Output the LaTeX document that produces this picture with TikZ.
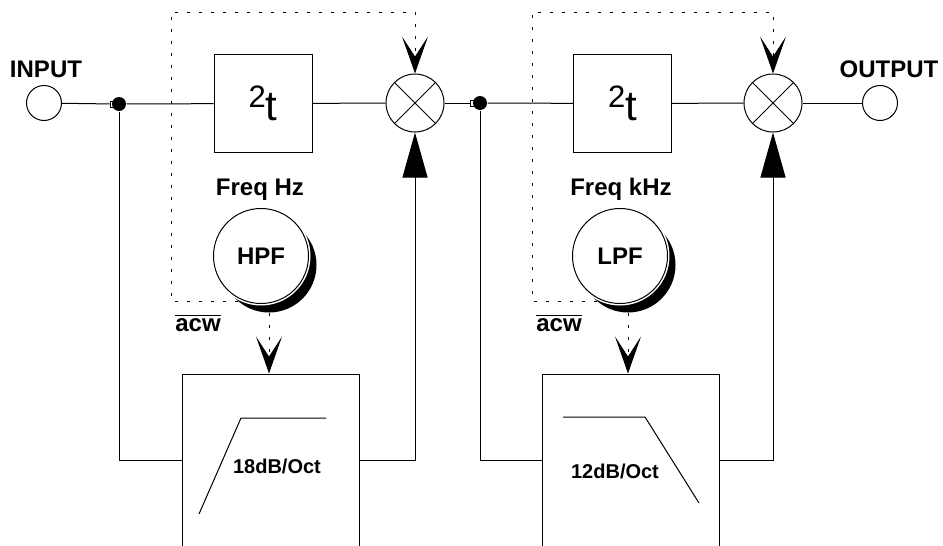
\documentclass[tikz,border=0pt]{standalone}
\usepackage{fontspec}
\setmainfont{Liberation Sans}
\usetikzlibrary{arrows.meta}

\tikzset{
  blk/.style={draw, minimum size=49pt, inner sep=0pt},
  filt/.style={draw, minimum width=88.5pt, minimum height=100pt, inner sep=0pt},
  mixer/.style={draw, circle, minimum size=29pt, inner sep=0pt},
  port/.style={draw, circle, minimum size=17.5pt, inner sep=0pt},
  knob/.style={draw, circle, fill=white, preaction={draw=white, line width=2pt},
    minimum size=47.5pt, inner sep=0pt, font=\fontsize{12}{14}\selectfont\bfseries},
  knobshade/.style={circle, fill=black, minimum size=47.5pt, inner sep=0pt},
  jdot/.style={circle, fill=black, minimum size=7pt, inner sep=0pt},
  tap/.style={draw, fill=white, minimum size=3pt, inner sep=0pt, line width=0.3pt},
  ctrl/.style={dash pattern=on 1.5pt off 4.5pt},
  lbl/.style={font=\fontsize{12}{14}\selectfont\bfseries},
  slope/.style={font=\fontsize{10}{12}\selectfont\bfseries},
  cv/.style={-{Stealth[length=18.5pt, width=13pt, inset=10pt]}},
  sig/.style={-{Triangle[length=22.5pt, width=12.5pt]}},
}

\begin{document}
\begin{tikzpicture}[x=0.5pt, y=-0.5pt, line width=0.5pt]
  \useasboundingbox (0,0) rectangle (943,546);
  \clip (0,0) rectangle (943,546);

  % in and out
  \node[port] (in) at (44,103) {};
  \node[lbl, anchor=base] (inlbl) at (46,77) {INPUT};
  \node[port] (out) at (880,103) {};
  \node[lbl, anchor=base] (outlbl) at (889,77) {OUTPUT};

  % first stage
  \node[tap] (sq1) at (113,104) {};
  \node[jdot] (jn1) at (119,104) {};
  \node[blk] (dly1) at (263,103.5) {{\fontsize{15.5}{16}\selectfont\raisebox{6.5pt}{2}}{\fontsize{21}{21}\selectfont t}};
  \node[mixer] (mix1) at (415,103) {};
  \node[filt] (flt1) at (270.5,474) {};

  % second stage
  \node[tap] (sq2) at (473,103) {};
  \node[jdot] (jn2) at (480,103) {};
  \node[blk] (dly2) at (622.5,103.5) {{\fontsize{15.5}{16}\selectfont\raisebox{6.5pt}{2}}{\fontsize{21}{21}\selectfont t}};
  \node[mixer] (mix2) at (773,103) {};
  \node[filt] (flt2) at (631,474) {};

  % signal path
  \draw (in) -- (sq1);
  \draw (jn1) -- (dly1);
  \draw (dly1) -- (mix1);
  \draw (mix1) -- (sq2);
  \draw (jn2) -- (dly2);
  \draw (dly2) -- (mix2);
  \draw (mix2) -- (out);
  \foreach \m in {mix1,mix2}
    \draw (\m.45) -- (\m.225) (\m.135) -- (\m.315);

  % filtered side paths
  \draw (jn1) |- ([yshift=7pt]flt1.west);
  \draw[sig] ([yshift=7pt]flt1.east) -| (mix1);
  \draw (jn2) |- ([yshift=7pt]flt2.west);
  \draw[sig] ([yshift=7pt]flt2.east) -| (mix2);

  % acw control lines
  \coordinate (cw1) at (250,301);
  \coordinate (top1) at (171,12);
  \draw[ctrl, cv] (cw1) -| (top1) -| (mix1);
  \coordinate (cw2) at (609,301);
  \coordinate (top2) at (532,12);
  \draw[ctrl, cv] (cw2) -| (top2) -| (mix2);

  % knobs
  \node[knobshade] (sh1) at (269,265) {};
  \node[knob] (knob1) at (261,256) {HPF};
  \node[lbl, anchor=base] (frq1) at (260,195) {Freq Hz};
  \node[lbl, anchor=base] (acw1) at (198,331) {$\overline{\mbox{acw}}$};
  \draw[ctrl, cv] (sh1.south) -- (sh1.south |- flt1.north);

  \node[knobshade] (sh2) at (628,265) {};
  \node[knob] (knob2) at (620,256) {LPF};
  \node[lbl, anchor=base] (frq2) at (621,195) {Freq kHz};
  \node[lbl, anchor=base] (acw2) at (559,331) {$\overline{\mbox{acw}}$};
  \draw[ctrl, cv] (sh2.south) -- (sh2.south |- flt2.north);

  % filter slopes
  \draw (199,514) -- (241,418) -- (326,418);
  \node[slope, anchor=base] (db1) at (277,473) {18dB/Oct};
  \draw (563,417) -- (645,417) -- (699,503);
  \node[slope, anchor=base] (db2) at (615,478) {12dB/Oct};
\end{tikzpicture}
\end{document}
